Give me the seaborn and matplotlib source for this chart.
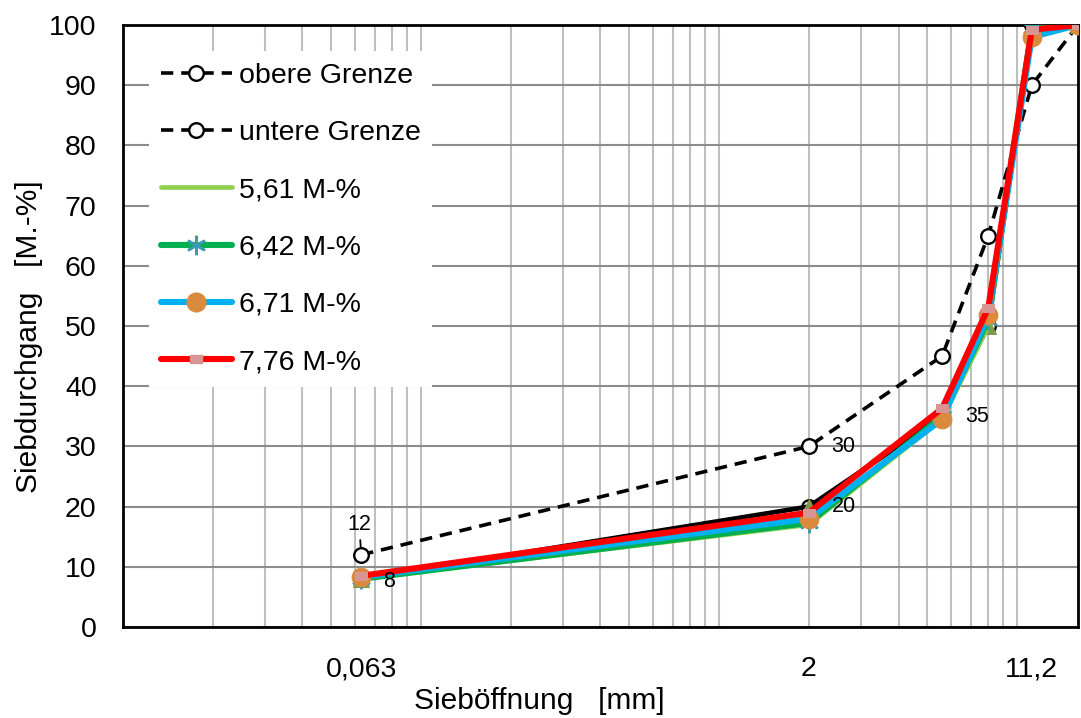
import matplotlib
matplotlib.use("Agg")
import matplotlib.pyplot as plt
import seaborn as sns
from matplotlib.lines import Line2D
from matplotlib.ticker import LogLocator, NullFormatter, NullLocator, FixedLocator

# Sieve openings [mm] and passing fractions [M.-%]
sieb = [0.063, 2, 5.6, 8, 11.2, 16]
obere_grenze = [12, 30, 45, 65, 90, 100]
untere_grenze = [8, 20, 35, 50, 100, 100]
kurve_561 = [8, 17, 34.5, 50, 100, 100]
kurve_642 = [8, 17.3, 35, 51, 99.5, 100]
kurve_671 = [8.3, 18, 34.5, 51.8, 98, 100]
kurve_776 = [8.5, 19, 36.3, 53, 99.2, 100]

legend_labels = ["obere Grenze", "untere Grenze", "5,61 M-%", "6,42 M-%", "6,71 M-%", "7,76 M-%"]
xtick_pos = [0.063, 2, 11.2]
xtick_labels = ["0,063", "2", "11,2"]
yticks = list(range(0, 101, 10))

# Point labels: (x, y, text)
grenz_labels_oben = [(0.063, 12, "12"), (2, 30, "30")]
grenz_labels_unten = [(0.063, 8, "8"), (2, 20, "20"), (5.6, 35, "35")]

sns.set_style("white")
plt.rcParams["font.family"] = ["Liberation Sans", "DejaVu Sans"]
plt.rcParams["text.color"] = "black"
plt.rcParams["axes.labelcolor"] = "black"
plt.rcParams["xtick.color"] = "black"
plt.rcParams["ytick.color"] = "black"

FS = 20.5
FS_LABEL = 21.5
FS_VAL = 15.5
fig, ax = plt.subplots(figsize=(10.81, 7.18), dpi=100)
fig.subplots_adjust(left=0.1138, right=0.9972, top=0.9652, bottom=0.1267)

ax.set_xscale("log")
ax.set_xlim(0.01, 16)
ax.set_ylim(0, 100)

dash = (0, (3.4, 2.2))
circ = dict(marker="o", markersize=10.5, markerfacecolor="white",
            markeredgecolor="black", markeredgewidth=1.7)

sns.lineplot(x=sieb, y=obere_grenze, ax=ax, color="black", lw=2.6,
             linestyle=dash, sort=False, estimator=None, zorder=3, **circ)
sns.lineplot(x=sieb, y=untere_grenze, ax=ax, color="black", lw=2.6,
             linestyle=dash, sort=False, estimator=None, zorder=3, **circ)
# solid lower bound trace with triangle markers
sns.lineplot(x=sieb, y=untere_grenze, ax=ax, color="black", lw=3.4,
             marker="^", markersize=12, markerfacecolor="#7F9A48",
             markeredgecolor="#7F9A48", sort=False, estimator=None, zorder=4)

sns.lineplot(x=sieb, y=kurve_561, ax=ax, color="#92D050", lw=3.4,
             sort=False, estimator=None, zorder=5)
sns.lineplot(x=sieb, y=kurve_642, ax=ax, color="#00B050", lw=4.4,
             marker=(6, 2, 0), markersize=14, markeredgecolor="#3B9AB2",
             markeredgewidth=1.8, sort=False, estimator=None, zorder=6)
sns.lineplot(x=sieb, y=kurve_671, ax=ax, color="#00B0F0", lw=4.4,
             marker="o", markersize=13.5, markerfacecolor="#DA8A3C",
             markeredgecolor="#DA8A3C", sort=False, estimator=None, zorder=7)
rect = [(-1, -0.6), (1, -0.6), (1, 0.6), (-1, 0.6), (-1, -0.6)]
sns.lineplot(x=sieb, y=kurve_776, ax=ax, color="#FF0000", lw=4.4,
             marker=rect, markersize=8.5, markerfacecolor="#D99594",
             markeredgecolor="#D99594", sort=False, estimator=None, zorder=8)

# grid
ax.xaxis.set_major_locator(LogLocator(base=10))
ax.xaxis.set_minor_locator(LogLocator(base=10, subs=range(2, 10)))
ax.xaxis.set_major_formatter(NullFormatter())
ax.xaxis.set_minor_formatter(NullFormatter())
ax.set_yticks(yticks)
ax.set_axisbelow(True)
ax.grid(True, which="both", axis="x", color="#BFBFBF", lw=1.5)
ax.grid(True, which="major", axis="y", color="#8C8C8C", lw=1.5)

ax.tick_params(axis="x", which="major", direction="out", length=10, width=1.5, color="black")
ax.tick_params(axis="x", which="minor", direction="out", length=6, width=1.2, color="#595959")
ax.tick_params(axis="y", which="major", direction="out", length=6, width=1.5,
               color="#8C8C8C", labelsize=FS, pad=13)

for s in ax.spines.values():
    s.set_visible(True)
    s.set_color("black")
    s.set_linewidth(2)

# x tick labels at the characteristic sieve sizes
sec = ax.secondary_xaxis("bottom")
sec.xaxis.set_major_locator(FixedLocator(xtick_pos))
sec.set_xticklabels(xtick_labels)
sec.xaxis.set_minor_locator(NullLocator())
sec.tick_params(axis="x", which="both", length=0, labelsize=FS, pad=21)
sec.spines["bottom"].set_visible(False)

ax.set_xlabel("Sieböffnung   [mm]", fontsize=FS_LABEL)
ax.set_ylabel("Siebdurchgang   [M.-%]", fontsize=FS_LABEL)
ax.xaxis.set_label_coords(0.436, -0.099)
ax.yaxis.set_label_coords(-0.084, 0.482)

# value labels on the grading limits
for x, y, t in grenz_labels_oben:
    if t == "12":
        ax.annotate(t, xy=(x, y), xytext=(-1.5, 22), textcoords="offset points",
                    ha="center", va="center", fontsize=FS_VAL,
                    arrowprops=dict(arrowstyle="-", color="black", lw=1.3,
                                    shrinkA=1.5, shrinkB=5), zorder=10)
    else:
        ax.annotate(t, xy=(x, y), xytext=(25, 0), textcoords="offset points",
                    ha="center", va="center", fontsize=FS_VAL, zorder=10)
for x, y, t in grenz_labels_unten:
    dx = 20 if t == "8" else 25
    dy = -2 if t == "8" else 0
    ax.annotate(t, xy=(x, y), xytext=(dx, dy), textcoords="offset points",
                ha="center", va="center", fontsize=FS_VAL, zorder=10)

handles = [
    Line2D([], [], color="black", lw=2.6, linestyle=dash, **circ),
    Line2D([], [], color="black", lw=2.6, linestyle=dash, **circ),
    Line2D([], [], color="#92D050", lw=3.4),
    Line2D([], [], color="#00B050", lw=4.4, marker=(6, 2, 0), markersize=14,
           markeredgecolor="#3B9AB2", markeredgewidth=1.8),
    Line2D([], [], color="#00B0F0", lw=4.4, marker="o", markersize=13.5,
           markerfacecolor="#DA8A3C", markeredgecolor="#DA8A3C"),
    Line2D([], [], color="#FF0000", lw=4.4, marker=rect, markersize=8.5,
           markerfacecolor="#D99594", markeredgecolor="#D99594"),
]
leg = ax.legend(handles, legend_labels, loc="upper left",
                bbox_to_anchor=(0.0126, 0.98), fontsize=FS, frameon=True,
                framealpha=1, facecolor="white", edgecolor="none",
                fancybox=False, handlelength=2.5, handletextpad=0.25,
                labelspacing=1.1, borderpad=0.4)
leg.set_zorder(20)

fig.savefig("out.png", dpi=100)
